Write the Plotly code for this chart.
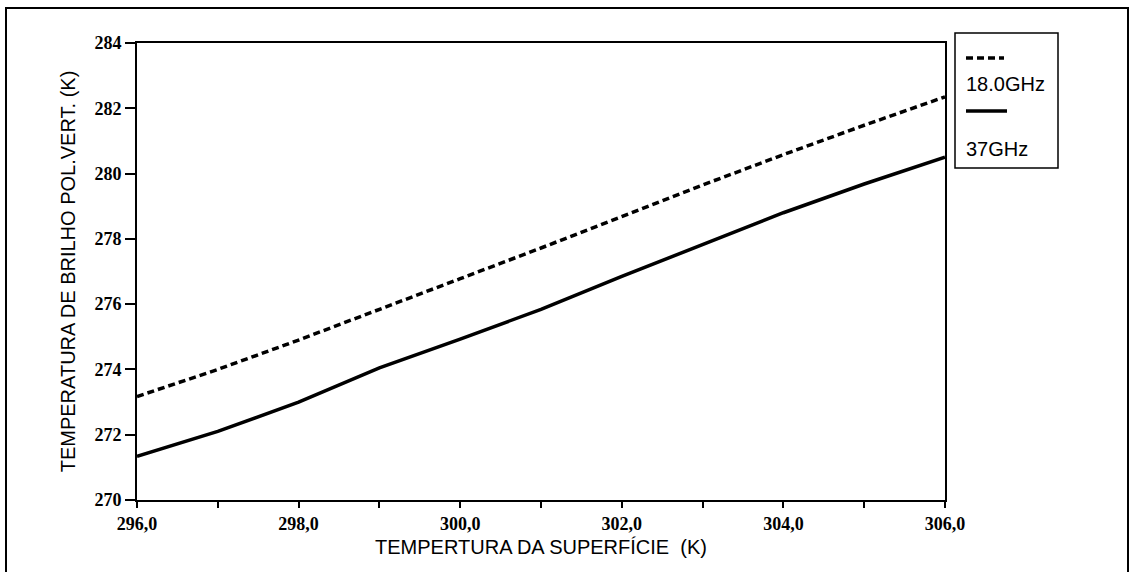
import plotly.graph_objects as go

# Surface temperature (K)
temp_superficie = [296, 297, 298, 299, 300, 301, 302, 303, 304, 305, 306]

# Vertical-polarisation brightness temperature (K)
tb_18ghz = [273.17, 274.0, 274.9, 275.85, 276.78, 277.72, 278.68, 279.65, 280.58, 281.48, 282.35]
tb_37ghz = [271.34, 272.1, 273.0, 274.05, 274.93, 275.84, 276.85, 277.83, 278.8, 279.68, 280.5]

serie_nomes = ["18.0GHz", "37GHz"]

x_tickvals = [296, 298, 300, 302, 304, 306]
x_ticktext = ["296,0", "298,0", "300,0", "302,0", "304,0", "306,0"]
y_tickvals = [270, 272, 274, 276, 278, 280, 282, 284]
y_ticktext = ["270", "272", "274", "276", "278", "280", "282", "284"]

W, H = 1131, 572
L, R, T, B = 137, 945, 43, 500


def px_x(p):
    return (p - L) / (R - L)


def px_y(p):
    return (B - p) / (B - T)


fig = go.Figure()
fig.add_trace(go.Scatter(
    x=temp_superficie, y=tb_18ghz, mode="lines", name=serie_nomes[0],
    line=dict(color="black", width=3.5, dash="7px,4px"), showlegend=False,
))
fig.add_trace(go.Scatter(
    x=temp_superficie, y=tb_37ghz, mode="lines", name=serie_nomes[1],
    line=dict(color="black", width=3.5), showlegend=False,
))

tick_font = dict(family="Liberation Serif", size=18, color="black", weight="bold")
title_font = dict(family="Liberation Sans", size=20, color="black")

fig.update_xaxes(
    range=[296, 306], showgrid=False, zeroline=False,
    showline=True, linecolor="black", linewidth=2, mirror=True,
    ticks="outside", ticklen=6, tickwidth=1.5, tickcolor="black",
    tickvals=x_tickvals, ticktext=x_ticktext, tickfont=tick_font,
    minor=dict(dtick=1, tick0=296, ticks="outside", ticklen=6, tickwidth=1.5, tickcolor="black"),
    title=dict(text="TEMPERTURA DA SUPERFÍCIE  (K)", font=title_font, standoff=7),
)
fig.update_yaxes(
    range=[270, 284], showgrid=False, zeroline=False,
    showline=True, linecolor="black", linewidth=2, mirror=True,
    ticks="outside", ticklen=10, tickwidth=1.5, tickcolor="black",
    tickvals=y_tickvals, ticktext=y_ticktext, tickfont=tick_font,
    ticklabelstandoff=0,
    title=dict(text="TEMPERATURA DE BRILHO POL.VERT. (K)", font=title_font, standoff=13),
)

shapes = [
    # outer frame
    dict(type="rect", xref="paper", yref="paper",
         x0=px_x(6), x1=px_x(1128), y0=px_y(590), y1=px_y(8),
         line=dict(color="black", width=2), fillcolor="rgba(0,0,0,0)"),
    # legend box
    dict(type="rect", xref="paper", yref="paper",
         x0=px_x(955), x1=px_x(1058), y0=px_y(168), y1=px_y(33),
         line=dict(color="black", width=1.5), fillcolor="white"),
    # legend samples
    dict(type="line", xref="paper", yref="paper",
         x0=px_x(966), x1=px_x(1004), y0=px_y(58), y1=px_y(58),
         line=dict(color="black", width=3.5, dash="7px,4px")),
    dict(type="line", xref="paper", yref="paper",
         x0=px_x(966), x1=px_x(1007), y0=px_y(111), y1=px_y(111),
         line=dict(color="black", width=3.5)),
]

legend_font = dict(family="Liberation Sans", size=20, color="black")
annotations = [
    dict(text=serie_nomes[0], xref="paper", yref="paper", x=px_x(964), y=px_y(84),
         xanchor="left", yanchor="middle", showarrow=False, font=legend_font),
    dict(text=serie_nomes[1], xref="paper", yref="paper", x=px_x(964), y=px_y(149),
         xanchor="left", yanchor="middle", showarrow=False, font=legend_font),
]

fig.update_layout(
    width=W, height=H,
    margin=dict(l=L, r=W - R, t=T, b=H - B),
    paper_bgcolor="white", plot_bgcolor="white",
    shapes=shapes, annotations=annotations,
    showlegend=False,
)

fig.write_html("out.html")
